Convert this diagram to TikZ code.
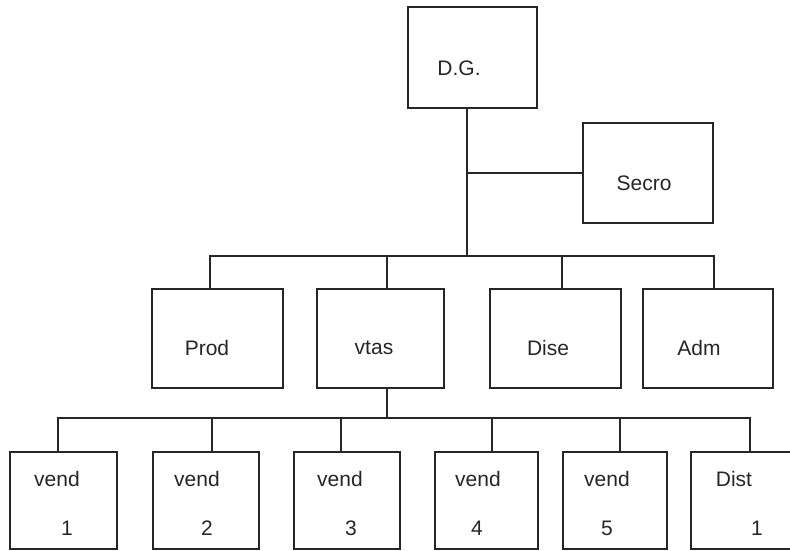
\documentclass[tikz,border=0pt]{standalone}
\usepackage{fontspec}
\setmainfont{Liberation Sans}
\begin{document}
\begin{tikzpicture}[x=1pt,y=-1pt,
  box/.style={draw=black!85, line width=1.5pt, rectangle, inner sep=0pt, outer sep=0pt},
  lbl/.style={inner sep=0pt, font=\fontsize{21}{24}\selectfont, text=black!85},
  wire/.style={draw=black!85, line width=1.5pt}]
\useasboundingbox (0,0) rectangle (790,551);
\clip (0,0) rectangle (790,551);
% boxes
\node[box, minimum width=129pt, minimum height=101pt] (dg) at (472.5,57.5) {};
\node[box, minimum width=130pt, minimum height=100pt] (secro) at (648,173) {};
\node[box, minimum width=131pt, minimum height=99pt] (prod) at (217.5,338.5) {};
\node[box, minimum width=127pt, minimum height=99pt] (vtas) at (380.5,338.5) {};
\node[box, minimum width=131pt, minimum height=99pt] (dise) at (555.5,338.5) {};
\node[box, minimum width=130pt, minimum height=99pt] (adm) at (708,338.5) {};
\node[box, minimum width=107pt, minimum height=97pt] (v1) at (63.5,500.5) {};
\node[box, minimum width=106pt, minimum height=97pt] (v2) at (206,500.5) {};
\node[box, minimum width=106pt, minimum height=97pt] (v3) at (347,500.5) {};
\node[box, minimum width=103pt, minimum height=97pt] (v4) at (486.5,500.5) {};
\node[box, minimum width=104pt, minimum height=97pt] (v5) at (615,500.5) {};
\node[box, minimum width=109pt, minimum height=97pt] (dist) at (745.5,500.5) {};
% labels
\node[lbl] (tdg) at (459,68) {D.G.};
\node[lbl] (tsecro) at (644,183) {Secro};
\node[lbl] (tprod) at (207,348) {Prod};
\node[lbl] (tvtas) at (374,348) {vtas};
\node[lbl] (tdise) at (548,348) {Dise};
\node[lbl] (tadm) at (699,348) {Adm};
\node[lbl] (tv1a) at (57,479) {vend};
\node[lbl] (tv1b) at (67,528) {1};
\node[lbl] (tv2a) at (197,479) {vend};
\node[lbl] (tv2b) at (207,528) {2};
\node[lbl] (tv3a) at (340,479) {vend};
\node[lbl] (tv3b) at (351,528) {3};
\node[lbl] (tv4a) at (478,479) {vend};
\node[lbl] (tv4b) at (477,528) {4};
\node[lbl] (tv5a) at (607,479) {vend};
\node[lbl] (tv5b) at (607,528) {5};
\node[lbl] (tdista) at (734,479) {Dist};
\node[lbl] (tdistb) at (757,528) {1};
% bus coordinates
\coordinate (j1) at (467,256);
\coordinate (b1l) at (210,256);
\coordinate (b1v) at (387,256);
\coordinate (b1d) at (562,256);
\coordinate (b1r) at (714,256);
\coordinate (j2) at (387,418);
\coordinate (b2a) at (58,418);
\coordinate (b2b) at (212,418);
\coordinate (b2c) at (341,418);
\coordinate (b2d) at (492,418);
\coordinate (b2e) at (620,418);
\coordinate (b2f) at (750,418);
% connectors
\draw[wire] (j1 |- dg.south) -- (j1);
\draw[wire] (j1 |- secro.west) -- (secro.west);
\draw[wire] (b1l |- prod.north) -- (b1l) -- (b1r) -- (b1r |- adm.north);
\draw[wire] (b1v) -- (b1v |- vtas.north);
\draw[wire] (b1d) -- (b1d |- dise.north);
\draw[wire] (j2 |- vtas.south) -- (j2);
\draw[wire] (b2a |- v1.north) -- (b2a) -- (b2f) -- (b2f |- dist.north);
\draw[wire] (b2b) -- (b2b |- v2.north);
\draw[wire] (b2c) -- (b2c |- v3.north);
\draw[wire] (b2d) -- (b2d |- v4.north);
\draw[wire] (b2e) -- (b2e |- v5.north);
\end{tikzpicture}
\end{document}
